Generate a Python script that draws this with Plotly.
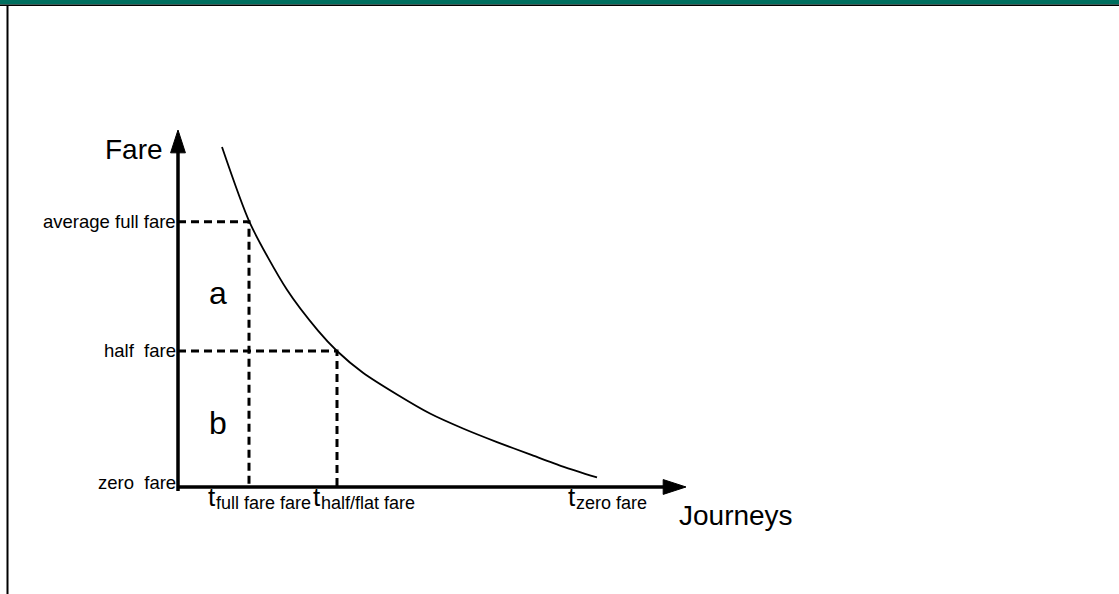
import plotly.graph_objects as go

# ---- data (conceptual units: journeys on x, fare on y) ----
curve_journeys = [0.44, 0.72, 1.09, 1.40, 1.59, 1.85, 2.19, 2.52, 2.85, 3.19, 3.52, 3.85, 4.19]
curve_fare = [2.50, 1.94, 1.45, 1.15, 1.00, 0.84, 0.68, 0.54, 0.43, 0.33, 0.24, 0.15, 0.07]

fare_labels = ["zero\u00a0 fare", "half\u00a0 fare", "average full fare"]
fare_levels = [0.0, 1.0, 1.95]

t_full = 0.71   # journeys at average full fare
t_half = 1.59   # journeys at half fare
t_labels = ["full fare fare", "half/flat fare", "zero fare"]
t_label_pos = [0.28, 1.33, 3.88]

area_labels = ["a", "b"]
area_pos_x = [0.40, 0.40]
area_pos_y = [1.43, 0.47]

y_axis_top = 2.625
x_axis_end = 5.08

FONT = "Liberation Sans, Arial, sans-serif"
INK = "#000000"

fig = go.Figure()

# demand curve
fig.add_trace(go.Scatter(x=curve_journeys, y=curve_fare, mode="lines",
                         line=dict(color=INK, width=1.8, shape="spline", smoothing=0.7),
                         hoverinfo="skip", showlegend=False))

# dashed guide lines
dash = "8px,5px"
fig.add_trace(go.Scatter(x=[0, t_full, t_full], y=[fare_levels[2], fare_levels[2], 0], mode="lines",
                         line=dict(color=INK, width=3, dash=dash), hoverinfo="skip", showlegend=False))
fig.add_trace(go.Scatter(x=[0, t_half, t_half], y=[fare_levels[1], fare_levels[1], 0], mode="lines",
                         line=dict(color=INK, width=3, dash=dash), hoverinfo="skip", showlegend=False))

# axes with arrowheads
arrow_marker = dict(symbol="arrow", size=[0, 24], color=INK, angleref="previous",
                    line=dict(width=1, color=INK), opacity=1)
fig.add_trace(go.Scatter(x=[0, 0], y=[-0.03, y_axis_top - 0.05], mode="lines",
                         line=dict(color=INK, width=3.5), hoverinfo="skip", showlegend=False))
fig.add_trace(go.Scatter(x=[0, 0], y=[y_axis_top - 0.2, y_axis_top], mode="markers",
                         marker=arrow_marker, hoverinfo="skip", showlegend=False))
fig.add_trace(go.Scatter(x=[-0.01, x_axis_end - 0.05], y=[0, 0], mode="lines",
                         line=dict(color=INK, width=3.5), hoverinfo="skip", showlegend=False))
fig.add_trace(go.Scatter(x=[x_axis_end - 0.2, x_axis_end], y=[0, 0], mode="markers",
                         marker=arrow_marker, hoverinfo="skip", showlegend=False))

annotations = []
# axis titles
annotations.append(dict(x=-0.13, y=2.48, xref="x", yref="y", text="Fare", showarrow=False,
                        xanchor="right", yanchor="middle", font=dict(family=FONT, size=28, color=INK)))
annotations.append(dict(x=4.99, y=-0.21, xref="x", yref="y", text="Journeys", showarrow=False,
                        xanchor="left", yanchor="middle", font=dict(family=FONT, size=28, color=INK)))

# fare labels
for lab, lev in zip(fare_labels, fare_levels):
    yy = lev if lev > 0 else 0.03
    annotations.append(dict(x=0.0, y=yy, xref="x", yref="y", text=lab, showarrow=False,
                            xanchor="right", yanchor="middle", font=dict(family=FONT, size=18.5, color=INK)))

# journey labels: large "t" with a subscript
for lab, xp in zip(t_labels, t_label_pos):
    annotations.append(dict(x=xp, y=0.05, xref="x", yref="y", text="t",
                            showarrow=False, xanchor="left", yanchor="top",
                            font=dict(family=FONT, size=26, color=INK)))
    annotations.append(dict(x=xp + 0.075, y=-0.03, xref="x", yref="y", text=lab,
                            showarrow=False, xanchor="left", yanchor="top",
                            font=dict(family=FONT, size=18, color=INK)))

# area labels
for lab, xp, yp in zip(area_labels, area_pos_x, area_pos_y):
    annotations.append(dict(x=xp, y=yp, xref="x", yref="y", text=lab, showarrow=False,
                            xanchor="center", yanchor="middle", font=dict(family=FONT, size=32, color=INK)))

shapes = [
    dict(type="rect", xref="paper", yref="paper", x0=0, x1=1, y0=1 - 4.6 / 594, y1=1,
         fillcolor="#006f5f", line=dict(width=0), layer="above"),
    dict(type="line", xref="paper", yref="paper", x0=0, x1=1, y0=1 - 5.2 / 594, y1=1 - 5.2 / 594,
         line=dict(color=INK, width=1.5)),
    dict(type="line", xref="paper", yref="paper", x0=7.5 / 1119, x1=7.5 / 1119, y0=0, y1=1 - 5 / 594,
         line=dict(color=INK, width=2)),
]

fig.update_layout(
    width=1119, height=594,
    margin=dict(l=0, r=0, t=0, b=0),
    paper_bgcolor="white", plot_bgcolor="white",
    xaxis=dict(range=[-1.78, 9.41], visible=False, fixedrange=True),
    yaxis=dict(range=[-0.787, 3.581], visible=False, fixedrange=True),
    annotations=annotations, shapes=shapes, showlegend=False,
)

fig.write_html("out.html", config={"displayModeBar": False},
               post_script="document.body.style.margin='0';document.body.style.padding='0';"
                           "document.body.style.overflow='hidden';")
